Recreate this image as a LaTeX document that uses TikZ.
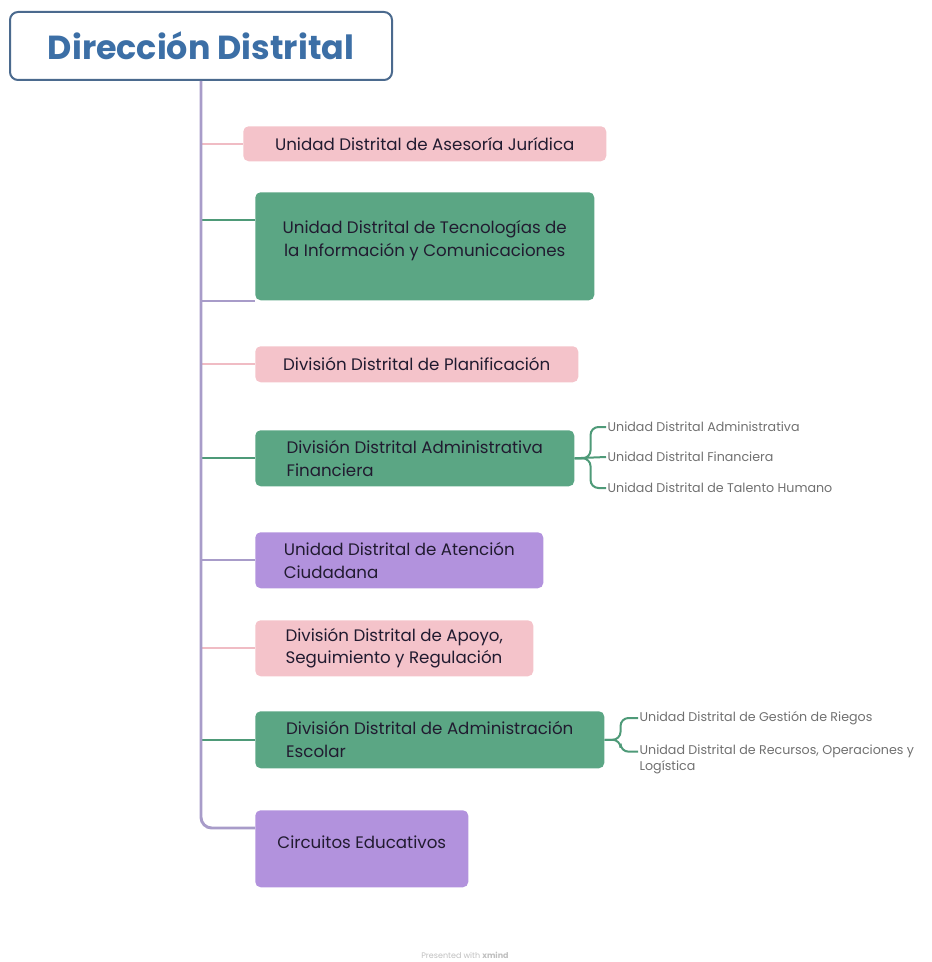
\documentclass[tikz,border=0pt]{standalone}
\usepackage{fontspec}
\setmainfont{Poppins}
\definecolor{pinkfill}{HTML}{F4C3CA}
\definecolor{greenfill}{HTML}{5BA684}
\definecolor{purplefill}{HTML}{B292DD}
\definecolor{pinkedge}{HTML}{F0BCC4}
\definecolor{greenedge}{HTML}{4E9A78}
\definecolor{trunkedge}{HTML}{A89CC9}
\definecolor{titleedge}{HTML}{4B6A8E}
\definecolor{titleblue}{HTML}{3C6FA6}
\definecolor{inktext}{HTML}{211B30}
\definecolor{subtext}{HTML}{707070}
\begin{document}
\begin{tikzpicture}[x=0.75pt, y=-0.75pt,
    every node/.style={font=\fontsize{12.5}{17}\selectfont, text=inktext},
    box/.style={rounded corners=4pt, align=left, anchor=north west, inner sep=0pt},
    pinkbox/.style={box, fill=pinkfill},
    greenbox/.style={box, fill=greenfill},
    purplebox/.style={box, fill=purplefill},
    sub/.style={anchor=west, font=\fontsize{9.5}{12}\selectfont, text=subtext, inner sep=1pt, align=left},
    pinkline/.style={draw=pinkedge, line width=1.5pt},
    greenline/.style={draw=greenedge, line width=1.5pt},
    trunkline/.style={draw=trunkedge, line width=2.2pt}]
    \useasboundingbox (0,0) rectangle (931,962);

    \node[draw=titleedge, line width=1.5pt, rounded corners=6pt, fill=white, minimum width=286.5pt, minimum height=51pt,
          font=\fontsize{25}{29}\selectfont\bfseries, text=titleblue] (dd) at (201,46) {Dirección Distrital};

    \node[pinkbox, minimum width=272.25pt, minimum height=26.25pt] (udaj) at (243,126) {Unidad Distrital de Asesoría Jurídica};
    \node[greenbox, align=center, minimum width=254.25pt, minimum height=81pt] (tic) at (255,192) {Unidad Distrital de Tecnologías de\\la Información y Comunicaciones\\[-5pt]\mbox{}};
    \node[pinkbox, minimum width=242.25pt, minimum height=27pt] (ddp) at (255,346) {División Distrital de Planificación};
    \node[greenbox, minimum width=239.25pt, minimum height=42pt] (af) at (255,430) {División Distrital Administrativa\\Financiera};
    \node[purplebox, minimum width=216pt, minimum height=42pt] (uac) at (255,532) {Unidad Distrital de Atención\\Ciudadana};
    \node[pinkbox, minimum width=208.5pt, minimum height=42pt] (asr) at (255,620) {División Distrital de Apoyo,\\Seguimiento y Regulación};
    \node[greenbox, minimum width=261.75pt, minimum height=42.75pt] (ae) at (255,711) {División Distrital de Administración\\Escolar};
    \node[purplebox, minimum width=159.75pt, minimum height=57.75pt] (ce) at (255,810) {Circuitos Educativos\\[-7pt]\mbox{}};

    \node[sub] (uadm) at (606,427) {Unidad Distrital Administrativa};
    \node[sub] (ufin) at (606,457) {Unidad Distrital Financiera};
    \node[sub] (uth) at (606,488) {Unidad Distrital de Talento Humano};
    \node[sub] (ugr) at (638,718) {Unidad Distrital de Gestión de Riegos};
    \node[sub, anchor=north west] (urec) at (638,743) {Unidad Distrital de Recursos, Operaciones y\\Logística};

    \node[font=\fontsize{6}{7}\selectfont, text=black!25] (pw) at (465,955) {Presented with \textbf{xmind}};

    \coordinate (tic-in) at ([yshift=-21pt]tic.north west);
    \coordinate (ce-in) at ([yshift=-13.5pt]ce.north west);
    \coordinate (urec-in) at ([yshift=-6.5pt]urec.north west);

    \draw[pinkline] (dd.south |- udaj.west) -- (udaj.west);
    \draw[greenline] (dd.south |- tic-in) -- (tic-in);
    \draw[trunkline, line width=1.5pt] (dd.south |- tic.south west) -- (tic.south west);
    \draw[pinkline] (dd.south |- ddp.west) -- (ddp.west);
    \draw[greenline] (dd.south |- af.west) -- (af.west);
    \draw[trunkline, line width=1.5pt] (dd.south |- uac.west) -- (uac.west);
    \draw[pinkline] (dd.south |- asr.west) -- (asr.west);
    \draw[greenline] (dd.south |- ae.west) -- (ae.west);
    \draw[trunkline, rounded corners=8pt] (dd.south) |- (ce-in);

    \draw[greenline, rounded corners=6pt] (af.east) -- ++(16,0) |- (uadm.west);
    \draw[greenline] (af.east) -- (ufin.west);
    \draw[greenline, rounded corners=6pt] (af.east) -- ++(16,0) |- (uth.west);
    \draw[greenline, rounded corners=6pt] (ae.east) -- ++(16,0) |- (ugr.west);
    \draw[greenline, rounded corners=6pt] (ae.east) -- ++(16,0) |- (urec-in);
\end{tikzpicture}
\end{document}
